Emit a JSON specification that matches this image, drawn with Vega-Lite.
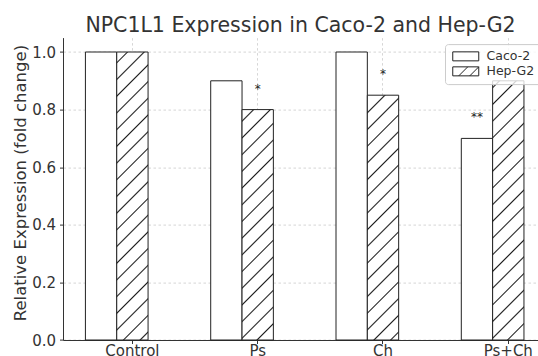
{
  "$schema": "https://vega.github.io/schema/vega-lite/v6.json",
  "width": 475,
  "height": 302.4,
  "autosize": {"type": "none"},
  "padding": {"left": 63, "top": 37.6, "right": 0, "bottom": 16},
  "background": "white",
  "title": {"text": "NPC1L1 Expression in Caco-2 and Hep-G2", "fontSize": 20.5, "font": "DejaVu Sans", "fontWeight": "normal", "color": "#333333", "offset": 1, "anchor": "middle", "frame": "group"},
  "config": {
    "view": {"stroke": null},
    "font": "DejaVu Sans",
    "axis": {"labelFont": "DejaVu Sans", "titleFont": "DejaVu Sans"},
    "legend": {"labelFont": "DejaVu Sans"}
  },
  "data": {"values": [
    {"cond": "Control", "grp": "Caco-2", "value": 1.0, "sig": ""},
    {"cond": "Control", "grp": "Hep-G2", "value": 1.0, "sig": ""},
    {"cond": "Ps", "grp": "Caco-2", "value": 0.9, "sig": ""},
    {"cond": "Ps", "grp": "Hep-G2", "value": 0.8, "sig": "*"},
    {"cond": "Ch", "grp": "Caco-2", "value": 1.0, "sig": ""},
    {"cond": "Ch", "grp": "Hep-G2", "value": 0.85, "sig": "*"},
    {"cond": "Ps+Ch", "grp": "Caco-2", "value": 0.7, "sig": "**"},
    {"cond": "Ps+Ch", "grp": "Hep-G2", "value": 0.9, "sig": ""}
  ]},
  "encoding": {
    "x": {"field": "cond", "type": "nominal", "sort": ["Control", "Ps", "Ch", "Ps+Ch"],
      "scale": {"domain": ["Control", "Ps", "Ch", "Ps+Ch"], "range": [0, 514.7], "paddingInner": 0, "paddingOuter": 0.0539},
      "axis": {"title": null, "labelAngle": 0, "labelFontSize": 15, "labelColor": "#333333", "tickSize": 3.5, "tickColor": "#333333", "domainColor": "#333333", "labelPadding": 0, "grid": true, "gridDash": [2.5, 2.5], "gridColor": "#cccccc", "gridWidth": 0.8, "bandPosition": 0.5}},
    "xOffset": {"field": "grp", "type": "nominal", "scale": {"domain": ["Caco-2", "Hep-G2"], "paddingInner": 0, "paddingOuter": 1, "align": 0.25}},
    "y": {"field": "value", "type": "quantitative",
      "scale": {"domain": [0, 1.05], "nice": false, "zero": true},
      "axis": {"title": "Relative Expression (fold change)", "values": [0, 0.2, 0.4, 0.6, 0.8, 1.0], "format": ".1f", "labelFontSize": 15, "labelColor": "#333333", "titleFontSize": 16.5, "titleFontWeight": "normal", "titleColor": "#333333", "titleY": 145, "tickSize": 3.5, "tickColor": "#333333", "domainColor": "#333333", "labelPadding": 4, "titlePadding": 3, "grid": true, "gridDash": [2.5, 2.5], "gridColor": "#cccccc", "gridWidth": 0.8}}
  },
  "layer": [
    {
      "transform": [{"filter": {"field": "grp", "equal": "Caco-2"}}],
      "mark": {"type": "bar", "fill": "white", "stroke": "#222222", "strokeWidth": 1}
    },
    {
      "transform": [{"filter": {"and": [{"field": "grp", "equal": "Hep-G2"}, {"field": "cond", "equal": "Control"}]}}],
      "mark": {"type": "bar", "stroke": "#222222", "strokeWidth": 1, "fill": {"gradient": "linear", "x1": 0, "y1": 0, "x2": 0.11919, "y2": 1.09582, "stops": [
        {"offset": 0, "color": "#ffffff"},
        {"offset": 0.02912, "color": "#ffffff"}, {"offset": 0.03382, "color": "#1a1a1a"}, {"offset": 0.03852, "color": "#ffffff"},
        {"offset": 0.08142, "color": "#ffffff"}, {"offset": 0.08612, "color": "#1a1a1a"}, {"offset": 0.09082, "color": "#ffffff"},
        {"offset": 0.13372, "color": "#ffffff"}, {"offset": 0.13842, "color": "#1a1a1a"}, {"offset": 0.14312, "color": "#ffffff"},
        {"offset": 0.18601, "color": "#ffffff"}, {"offset": 0.19071, "color": "#1a1a1a"}, {"offset": 0.19541, "color": "#ffffff"},
        {"offset": 0.23831, "color": "#ffffff"}, {"offset": 0.24301, "color": "#1a1a1a"}, {"offset": 0.24771, "color": "#ffffff"},
        {"offset": 0.29061, "color": "#ffffff"}, {"offset": 0.29531, "color": "#1a1a1a"}, {"offset": 0.30001, "color": "#ffffff"},
        {"offset": 0.34291, "color": "#ffffff"}, {"offset": 0.34761, "color": "#1a1a1a"}, {"offset": 0.35231, "color": "#ffffff"},
        {"offset": 0.39520, "color": "#ffffff"}, {"offset": 0.39990, "color": "#1a1a1a"}, {"offset": 0.40460, "color": "#ffffff"},
        {"offset": 0.44750, "color": "#ffffff"}, {"offset": 0.45220, "color": "#1a1a1a"}, {"offset": 0.45690, "color": "#ffffff"},
        {"offset": 0.49980, "color": "#ffffff"}, {"offset": 0.50450, "color": "#1a1a1a"}, {"offset": 0.50920, "color": "#ffffff"},
        {"offset": 0.55210, "color": "#ffffff"}, {"offset": 0.55680, "color": "#1a1a1a"}, {"offset": 0.56150, "color": "#ffffff"},
        {"offset": 0.60439, "color": "#ffffff"}, {"offset": 0.60909, "color": "#1a1a1a"}, {"offset": 0.61379, "color": "#ffffff"},
        {"offset": 0.65669, "color": "#ffffff"}, {"offset": 0.66139, "color": "#1a1a1a"}, {"offset": 0.66609, "color": "#ffffff"},
        {"offset": 0.70899, "color": "#ffffff"}, {"offset": 0.71369, "color": "#1a1a1a"}, {"offset": 0.71839, "color": "#ffffff"},
        {"offset": 0.76129, "color": "#ffffff"}, {"offset": 0.76599, "color": "#1a1a1a"}, {"offset": 0.77069, "color": "#ffffff"},
        {"offset": 0.81359, "color": "#ffffff"}, {"offset": 0.81829, "color": "#1a1a1a"}, {"offset": 0.82299, "color": "#ffffff"},
        {"offset": 0.86589, "color": "#ffffff"}, {"offset": 0.87059, "color": "#1a1a1a"}, {"offset": 0.87529, "color": "#ffffff"},
        {"offset": 0.91818, "color": "#ffffff"}, {"offset": 0.92288, "color": "#1a1a1a"}, {"offset": 0.92758, "color": "#ffffff"},
        {"offset": 0.97048, "color": "#ffffff"}, {"offset": 0.97518, "color": "#1a1a1a"}, {"offset": 0.97988, "color": "#ffffff"},
        {"offset": 1, "color": "#ffffff"}
      ]}}
    },
    {
      "transform": [{"filter": {"and": [{"field": "grp", "equal": "Hep-G2"}, {"field": "cond", "equal": "Ps"}]}}],
      "mark": {"type": "bar", "stroke": "#222222", "strokeWidth": 1, "fill": {"gradient": "linear", "x1": 0, "y1": 0, "x2": 0.15164, "y2": 1.11534, "stops": [
        {"offset": 0, "color": "#ffffff"},
        {"offset": 0.03859, "color": "#ffffff"}, {"offset": 0.04432, "color": "#1a1a1a"}, {"offset": 0.05005, "color": "#ffffff"},
        {"offset": 0.10240, "color": "#ffffff"}, {"offset": 0.10813, "color": "#1a1a1a"}, {"offset": 0.11386, "color": "#ffffff"},
        {"offset": 0.16621, "color": "#ffffff"}, {"offset": 0.17194, "color": "#1a1a1a"}, {"offset": 0.17767, "color": "#ffffff"},
        {"offset": 0.23001, "color": "#ffffff"}, {"offset": 0.23574, "color": "#1a1a1a"}, {"offset": 0.24147, "color": "#ffffff"},
        {"offset": 0.29382, "color": "#ffffff"}, {"offset": 0.29955, "color": "#1a1a1a"}, {"offset": 0.30528, "color": "#ffffff"},
        {"offset": 0.35763, "color": "#ffffff"}, {"offset": 0.36336, "color": "#1a1a1a"}, {"offset": 0.36909, "color": "#ffffff"},
        {"offset": 0.42144, "color": "#ffffff"}, {"offset": 0.42717, "color": "#1a1a1a"}, {"offset": 0.43290, "color": "#ffffff"},
        {"offset": 0.48525, "color": "#ffffff"}, {"offset": 0.49098, "color": "#1a1a1a"}, {"offset": 0.49671, "color": "#ffffff"},
        {"offset": 0.54905, "color": "#ffffff"}, {"offset": 0.55478, "color": "#1a1a1a"}, {"offset": 0.56051, "color": "#ffffff"},
        {"offset": 0.61286, "color": "#ffffff"}, {"offset": 0.61859, "color": "#1a1a1a"}, {"offset": 0.62432, "color": "#ffffff"},
        {"offset": 0.67667, "color": "#ffffff"}, {"offset": 0.68240, "color": "#1a1a1a"}, {"offset": 0.68813, "color": "#ffffff"},
        {"offset": 0.74048, "color": "#ffffff"}, {"offset": 0.74621, "color": "#1a1a1a"}, {"offset": 0.75194, "color": "#ffffff"},
        {"offset": 0.80428, "color": "#ffffff"}, {"offset": 0.81001, "color": "#1a1a1a"}, {"offset": 0.81574, "color": "#ffffff"},
        {"offset": 0.86809, "color": "#ffffff"}, {"offset": 0.87382, "color": "#1a1a1a"}, {"offset": 0.87955, "color": "#ffffff"},
        {"offset": 0.93190, "color": "#ffffff"}, {"offset": 0.93763, "color": "#1a1a1a"}, {"offset": 0.94336, "color": "#ffffff"},
        {"offset": 1, "color": "#ffffff"}
      ]}}
    },
    {
      "transform": [{"filter": {"and": [{"field": "grp", "equal": "Hep-G2"}, {"field": "cond", "equal": "Ch"}]}}],
      "mark": {"type": "bar", "stroke": "#222222", "strokeWidth": 1, "fill": {"gradient": "linear", "x1": 0, "y1": 0, "x2": 0.14201, "y2": 1.10979, "stops": [
        {"offset": 0, "color": "#ffffff"},
        {"offset": 0.05831, "color": "#ffffff"}, {"offset": 0.06374, "color": "#1a1a1a"}, {"offset": 0.06917, "color": "#ffffff"},
        {"offset": 0.11879, "color": "#ffffff"}, {"offset": 0.12422, "color": "#1a1a1a"}, {"offset": 0.12965, "color": "#ffffff"},
        {"offset": 0.17927, "color": "#ffffff"}, {"offset": 0.18470, "color": "#1a1a1a"}, {"offset": 0.19013, "color": "#ffffff"},
        {"offset": 0.23975, "color": "#ffffff"}, {"offset": 0.24518, "color": "#1a1a1a"}, {"offset": 0.25061, "color": "#ffffff"},
        {"offset": 0.30023, "color": "#ffffff"}, {"offset": 0.30566, "color": "#1a1a1a"}, {"offset": 0.31109, "color": "#ffffff"},
        {"offset": 0.36071, "color": "#ffffff"}, {"offset": 0.36614, "color": "#1a1a1a"}, {"offset": 0.37157, "color": "#ffffff"},
        {"offset": 0.42119, "color": "#ffffff"}, {"offset": 0.42662, "color": "#1a1a1a"}, {"offset": 0.43205, "color": "#ffffff"},
        {"offset": 0.48167, "color": "#ffffff"}, {"offset": 0.48710, "color": "#1a1a1a"}, {"offset": 0.49253, "color": "#ffffff"},
        {"offset": 0.54215, "color": "#ffffff"}, {"offset": 0.54758, "color": "#1a1a1a"}, {"offset": 0.55301, "color": "#ffffff"},
        {"offset": 0.60263, "color": "#ffffff"}, {"offset": 0.60806, "color": "#1a1a1a"}, {"offset": 0.61349, "color": "#ffffff"},
        {"offset": 0.66311, "color": "#ffffff"}, {"offset": 0.66854, "color": "#1a1a1a"}, {"offset": 0.67397, "color": "#ffffff"},
        {"offset": 0.72359, "color": "#ffffff"}, {"offset": 0.72902, "color": "#1a1a1a"}, {"offset": 0.73445, "color": "#ffffff"},
        {"offset": 0.78407, "color": "#ffffff"}, {"offset": 0.78950, "color": "#1a1a1a"}, {"offset": 0.79493, "color": "#ffffff"},
        {"offset": 0.84455, "color": "#ffffff"}, {"offset": 0.84998, "color": "#1a1a1a"}, {"offset": 0.85541, "color": "#ffffff"},
        {"offset": 0.90503, "color": "#ffffff"}, {"offset": 0.91046, "color": "#1a1a1a"}, {"offset": 0.91589, "color": "#ffffff"},
        {"offset": 0.96551, "color": "#ffffff"}, {"offset": 0.97094, "color": "#1a1a1a"}, {"offset": 0.97637, "color": "#ffffff"},
        {"offset": 1, "color": "#ffffff"}
      ]}}
    },
    {
      "transform": [{"filter": {"and": [{"field": "grp", "equal": "Hep-G2"}, {"field": "cond", "equal": "Ps+Ch"}]}}],
      "mark": {"type": "bar", "stroke": "#222222", "strokeWidth": 1, "fill": {"gradient": "linear", "x1": 0, "y1": 0, "x2": 0.13351, "y2": 1.10472, "stops": [
        {"offset": 0, "color": "#ffffff"},
        {"offset": 0.01859, "color": "#ffffff"}, {"offset": 0.02375, "color": "#1a1a1a"}, {"offset": 0.02891, "color": "#ffffff"},
        {"offset": 0.07607, "color": "#ffffff"}, {"offset": 0.08123, "color": "#1a1a1a"}, {"offset": 0.08639, "color": "#ffffff"},
        {"offset": 0.13355, "color": "#ffffff"}, {"offset": 0.13871, "color": "#1a1a1a"}, {"offset": 0.14387, "color": "#ffffff"},
        {"offset": 0.19104, "color": "#ffffff"}, {"offset": 0.19620, "color": "#1a1a1a"}, {"offset": 0.20136, "color": "#ffffff"},
        {"offset": 0.24852, "color": "#ffffff"}, {"offset": 0.25368, "color": "#1a1a1a"}, {"offset": 0.25884, "color": "#ffffff"},
        {"offset": 0.30600, "color": "#ffffff"}, {"offset": 0.31116, "color": "#1a1a1a"}, {"offset": 0.31632, "color": "#ffffff"},
        {"offset": 0.36348, "color": "#ffffff"}, {"offset": 0.36864, "color": "#1a1a1a"}, {"offset": 0.37380, "color": "#ffffff"},
        {"offset": 0.42096, "color": "#ffffff"}, {"offset": 0.42612, "color": "#1a1a1a"}, {"offset": 0.43128, "color": "#ffffff"},
        {"offset": 0.47845, "color": "#ffffff"}, {"offset": 0.48361, "color": "#1a1a1a"}, {"offset": 0.48877, "color": "#ffffff"},
        {"offset": 0.53593, "color": "#ffffff"}, {"offset": 0.54109, "color": "#1a1a1a"}, {"offset": 0.54625, "color": "#ffffff"},
        {"offset": 0.59341, "color": "#ffffff"}, {"offset": 0.59857, "color": "#1a1a1a"}, {"offset": 0.60373, "color": "#ffffff"},
        {"offset": 0.65089, "color": "#ffffff"}, {"offset": 0.65605, "color": "#1a1a1a"}, {"offset": 0.66121, "color": "#ffffff"},
        {"offset": 0.70838, "color": "#ffffff"}, {"offset": 0.71354, "color": "#1a1a1a"}, {"offset": 0.71870, "color": "#ffffff"},
        {"offset": 0.76586, "color": "#ffffff"}, {"offset": 0.77102, "color": "#1a1a1a"}, {"offset": 0.77618, "color": "#ffffff"},
        {"offset": 0.82334, "color": "#ffffff"}, {"offset": 0.82850, "color": "#1a1a1a"}, {"offset": 0.83366, "color": "#ffffff"},
        {"offset": 0.88082, "color": "#ffffff"}, {"offset": 0.88598, "color": "#1a1a1a"}, {"offset": 0.89114, "color": "#ffffff"},
        {"offset": 0.93831, "color": "#ffffff"}, {"offset": 0.94347, "color": "#1a1a1a"}, {"offset": 0.94863, "color": "#ffffff"},
        {"offset": 1, "color": "#ffffff"}
      ]}}
    },
    {
      "transform": [{"filter": "datum.sig != ''"}],
      "mark": {"type": "text", "dy": -17, "fontSize": 12, "font": "DejaVu Sans", "color": "#222222", "baseline": "alphabetic", "align": "center"},
      "encoding": {"text": {"field": "sig", "type": "nominal"}}
    },
    {
      "mark": {"type": "point", "filled": false, "stroke": "#222222", "strokeWidth": 1, "opacity": 0, "size": 81},
      "encoding": {
        "shape": {"field": "grp", "type": "nominal",
          "scale": {"domain": ["Caco-2", "Hep-G2"], "range": ["M-1,-1L4.78,-1L4.78,1L-1,1Z", "M-1,-1L4.78,-1L4.78,1L-1,1Z M0.33,1L2.33,-1 M2.78,1L4.78,-1"]},
          "legend": {"title": null, "orient": "none", "legendX": 382, "legendY": 6.5, "symbolSize": 81, "labelOffset": 23, "labelFontSize": 12.5, "labelColor": "#333333", "fillColor": "rgba(255,255,255,0.8)", "strokeColor": "#cccccc", "cornerRadius": 3, "padding": 6, "rowPadding": 1, "symbolStrokeColor": "#222222", "symbolStrokeWidth": 1, "symbolOpacity": 1}}
      }
    }
  ]
}
